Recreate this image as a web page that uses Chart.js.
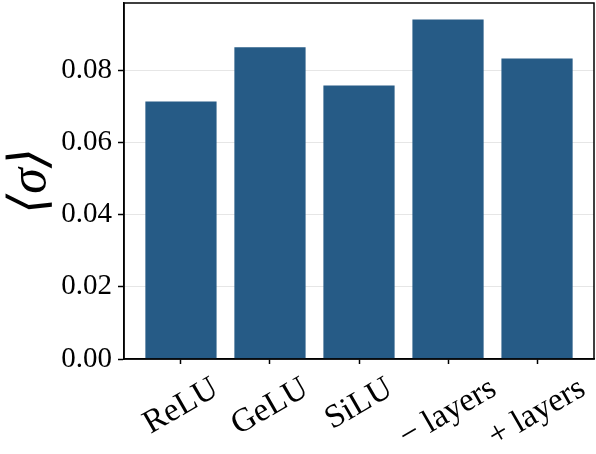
<!DOCTYPE html>
<html lang="en">
<head>
  <meta charset="UTF-8">
  <title>Mean sigma per variant</title>
  <script src="https://cdn.jsdelivr.net/npm/chart.js"></script>
  <style>
    html, body { margin: 0; padding: 0; background: #fff; }
    canvas { display: block; }
  </style>
</head>
<body>
  <canvas id="chart" width="596" height="454"></canvas>

  <script>
    // data
    const categories = ['ReLU', 'GeLU', 'SiLU', '\u2212 layers', '+ layers'];
    const sigmaMean = [0.0714, 0.0864, 0.0758, 0.0941, 0.0833];
    const yTicks = [0, 0.02, 0.04, 0.06, 0.08];

    const serif = '"Liberation Serif", "DejaVu Serif", serif';
    const xFontSize = 33;

    // top/right spines + rotated x labels centered on their tick (matplotlib style)
    const framePlugin = {
      id: 'frame',
      afterDraw(chart) {
        const { ctx, chartArea: a, scales } = chart;
        ctx.save();
        ctx.strokeStyle = '#000';
        ctx.lineWidth = 1.5;
        ctx.strokeRect(a.left, a.top, a.right - a.left, a.bottom - a.top);

        ctx.font = xFontSize + 'px ' + serif;
        ctx.fillStyle = '#000';
        ctx.textAlign = 'center';
        ctx.textBaseline = 'middle';
        const ang = 30 * Math.PI / 180;
        categories.forEach((c, i) => {
          const x = scales.x.getPixelForValue(i);
          const w = ctx.measureText(c).width;
          const H = w * Math.sin(ang) + xFontSize * Math.cos(ang);
          ctx.save();
          ctx.translate(x, a.bottom + 13 + H / 2);
          ctx.rotate(-ang);
          ctx.fillText(c, 0, 0);
          ctx.restore();
        });
        ctx.restore();
      }
    };

    new Chart(document.getElementById('chart'), {
      type: 'bar',
      data: {
        datasets: [{
          data: sigmaMean.map((v, i) => ({ x: i, y: v })),
          backgroundColor: '#265b86',
          categoryPercentage: 0.8,
          barPercentage: 1.0
        }]
      },
      options: {
        responsive: false,
        animation: false,
        layout: { padding: { left: 0, top: 3, right: 2, bottom: 0 } },
        plugins: {
          legend: { display: false },
          tooltip: { enabled: false }
        },
        scales: {
          x: {
            type: 'linear',
            min: -0.64,
            max: 4.64,
            offset: false,
            afterBuildTicks: s => { s.ticks = categories.map((c, i) => ({ value: i })); },
            afterFit: s => { s.height = 95; s.paddingLeft = 0; s.paddingRight = 0; },
            grid: {
              offset: false,
              drawOnChartArea: false,
              tickLength: 5,
              tickColor: '#000',
              tickWidth: 1.5
            },
            border: { display: true, color: '#000', width: 1.5 },
            ticks: { callback: () => '' }
          },
          y: {
            min: 0,
            max: 0.0987,
            z: 1,
            afterBuildTicks: s => { s.ticks = yTicks.map(v => ({ value: v })); },
            afterFit: s => { s.width = 124; s.paddingTop = 0; s.paddingBottom = 0; },
            grid: {
              color: 'rgba(200,200,200,0.45)',
              lineWidth: 1,
              tickColor: '#000',
              tickLength: 6,
              tickWidth: 1.5
            },
            border: { display: true, color: '#000', width: 1.5 },
            ticks: {
              font: { family: serif, size: 29 },
              color: '#000',
              padding: 6,
              callback: v => v.toFixed(2)
            },
            title: {
              display: true,
              text: '\u27E8\u03C3\u27E9',
              font: { family: serif, size: 52, style: 'italic' },
              color: '#000',
              padding: 0
            }
          }
        }
      },
      plugins: [framePlugin]
    });
  </script>
</body>
</html>
